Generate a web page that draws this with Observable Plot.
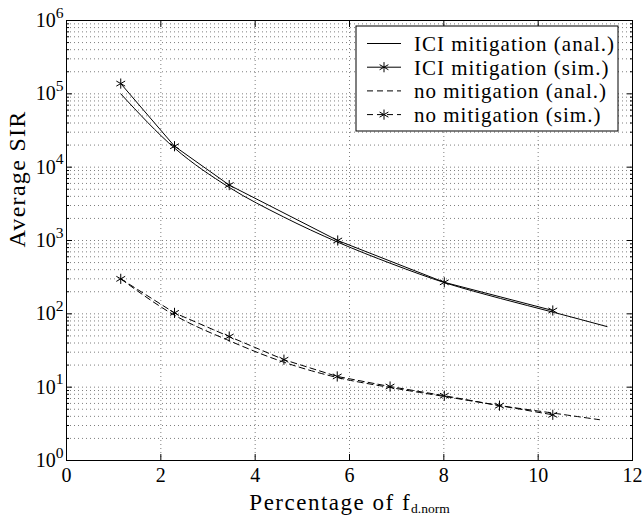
<!DOCTYPE html>
<html>
<head>
<meta charset="utf-8">
<script src="https://cdn.jsdelivr.net/npm/d3@7"></script>
<script src="https://cdn.jsdelivr.net/npm/@observablehq/plot@0.6"></script>
<style>
  html, body { margin: 0; padding: 0; background: #fff; }
  #chart svg { display: block; }
  #chart svg text { font-family: "Liberation Serif", "Times New Roman", serif; }
</style>
</head>
<body>
<div id="chart"></div>
<script>
// ---- Data ----
const iciAnalX = [1.15, 2.30, 3.45, 4.60, 5.75, 6.90, 8.05, 9.20, 10.35, 11.46];
const iciAnalY = [1.0e5, 1.8e4, 5.3e3, 2.1e3, 950, 480, 262, 162, 104, 67];

const iciSimX = [1.15, 2.29, 3.45, 5.75, 8.01, 10.31];
const iciSimY = [1.38e5, 1.93e4, 5.7e3, 1.0e3, 269, 111];

const noAnalX = [1.15, 2.30, 3.45, 4.60, 5.75, 6.90, 8.05, 9.20, 10.35, 11.30];
const noAnalY = [300, 95, 43, 22, 13.5, 9.8, 7.4, 5.6, 4.4, 3.6];

const noSimX = [1.15, 2.29, 3.45, 4.61, 5.74, 6.86, 8.01, 9.18, 10.31];
const noSimY = [300, 103, 49, 23.7, 14.0, 10.2, 7.65, 5.6, 4.2];

const seriesLabels = ["ICI mitigation (anal.)", "ICI mitigation (sim.)", "no mitigation (anal.)", "no mitigation (sim.)"];

const xTicks = [0, 2, 4, 6, 8, 10, 12];
const xGrid = [2, 4, 6, 8, 10];
const yMajor = [1, 10, 100, 1e3, 1e4, 1e5, 1e6];
const yMinorMult = [2, 3, 4, 5, 6, 7, 8, 9];
const yMinor = yMajor.slice(0, -1).flatMap(p => yMinorMult.map(m => m * p));

const xLabelMain = "Percentage of f";
const xLabelSub = "d.norm";
const yLabel = "Average SIR";

// ---- Tables ----
const toRows = (xs, ys) => xs.map((x, i) => ({x, y: ys[i]}));
const iciAnal = toRows(iciAnalX, iciAnalY);
const iciSim = toRows(iciSimX, iciSimY);
const noAnal = toRows(noAnalX, noAnalY);
const noSim = toRows(noSimX, noSimY);

const FONT = "Liberation Serif";
const dash = "6,4";
const gridStyle = {stroke: "#000", strokeOpacity: 0.5, strokeDasharray: "1,3", strokeWidth: 1};
const starR = 4.8;

const plot = Plot.plot({
  width: 642,
  height: 520,
  marginLeft: 66,
  marginRight: 10,
  marginTop: 20,
  marginBottom: 60,
  style: "font-family: 'Liberation Serif', serif; font-size: 20px; background: #fff; color: #000;",
  x: {domain: [0, 12], label: null},
  y: {type: "log", domain: [1, 1e6], label: null},
  marks: [
    Plot.gridY(yMinor, gridStyle),
    Plot.gridY(yMajor, gridStyle),
    Plot.gridX(xGrid, gridStyle),
    Plot.axisX(xTicks, {anchor: "bottom", tickSize: -6, tickPadding: 13, fontSize: 20, fontFamily: FONT, stroke: "#000"}),
    Plot.axisX(xTicks, {anchor: "top", tickSize: -6, tickFormat: () => "", stroke: "#000"}),
    Plot.axisY(yMajor, {anchor: "left", tickSize: -6, tickPadding: 9, fontSize: 20, fontFamily: FONT, stroke: "#000",
      tickFormat: d => "10^" + Math.round(Math.log10(d))}),
    Plot.axisY(yMinor, {anchor: "left", tickSize: -3, tickFormat: () => "", stroke: "#000"}),
    Plot.axisY(yMajor, {anchor: "right", tickSize: -6, tickFormat: () => "", stroke: "#000"}),
    Plot.axisY(yMinor, {anchor: "right", tickSize: -3, tickFormat: () => "", stroke: "#000"}),
    Plot.frame({stroke: "#000", strokeWidth: 1}),
    Plot.line(iciAnal, {x: "x", y: "y", stroke: "#000", strokeWidth: 1, curve: "monotone-x"}),
    Plot.line(iciSim, {x: "x", y: "y", stroke: "#000", strokeWidth: 1}),
    Plot.dot(iciSim, {x: "x", y: "y", symbol: "asterisk", r: starR, stroke: "#000", strokeWidth: 1}),
    Plot.line(noAnal, {x: "x", y: "y", stroke: "#000", strokeWidth: 1, strokeDasharray: dash, curve: "monotone-x"}),
    Plot.line(noSim, {x: "x", y: "y", stroke: "#000", strokeWidth: 1, strokeDasharray: dash}),
    Plot.dot(noSim, {x: "x", y: "y", symbol: "asterisk", r: starR, stroke: "#000", strokeWidth: 1}),
    Plot.text([xLabelMain + "_" + xLabelSub], {frameAnchor: "bottom", dy: 49, lineAnchor: "bottom", fontSize: 23, fontFamily: FONT, fill: "#000"}),
    Plot.text([yLabel], {frameAnchor: "left", rotate: -90, dx: -49, dy: 7, fontSize: 24, fontFamily: FONT, fill: "#000"})
  ]
});

const svg = d3.select(plot);

// superscript exponents for y tick labels, subscript for x label, spacing of titles
svg.selectAll("text").each(function () {
  const t = this.textContent;
  const s = d3.select(this);
  if (/^10\^\d+$/.test(t)) {
    const [b, e] = t.split("^");
    s.text(null);
    s.append("tspan").text(b);
    s.append("tspan").attr("dy", "-0.6em").attr("font-size", "0.78em").text(e);
  } else if (t === xLabelMain + "_" + xLabelSub) {
    s.text(null);
    s.append("tspan").attr("letter-spacing", "1.5px").text(xLabelMain);
    s.append("tspan").attr("dy", "0.27em").attr("font-size", "13.5px").text(xLabelSub);
  } else if (t === yLabel) {
    s.attr("letter-spacing", "1.3px");
  }
});

// legend
const lx = 356, ly = 26, lw = 262, lh = 105;
const L = svg.append("g").attr("aria-label", "legend")
  .attr("font-family", FONT).attr("font-size", 21).attr("text-anchor", "start");
L.append("rect").attr("x", lx).attr("y", ly).attr("width", lw).attr("height", lh)
  .attr("fill", "#fff").attr("stroke", "#000").attr("stroke-width", 1);
const legendDefs = [
  {dash: null, star: false},
  {dash: null, star: true},
  {dash: dash, star: false},
  {dash: dash, star: true}
];
const starPath = d3.symbol(d3.symbolAsterisk, Math.PI * starR * starR)();
legendDefs.forEach((d, i) => {
  const y = ly + 17.5 + i * 23.7;
  L.append("line").attr("x1", lx + 11).attr("x2", lx + 45).attr("y1", y).attr("y2", y)
    .attr("stroke", "#000").attr("stroke-width", 1).attr("stroke-dasharray", d.dash);
  if (d.star) L.append("path").attr("d", starPath).attr("transform", `translate(${lx + 28},${y})`)
    .attr("fill", "none").attr("stroke", "#000");
  L.append("text").attr("x", lx + 58).attr("y", y).attr("dy", "0.35em").attr("text-anchor", "start")
    .attr("letter-spacing", "1px").attr("fill", "#000").text(seriesLabels[i]);
});

document.getElementById("chart").appendChild(plot);
</script>
</body>
</html>
